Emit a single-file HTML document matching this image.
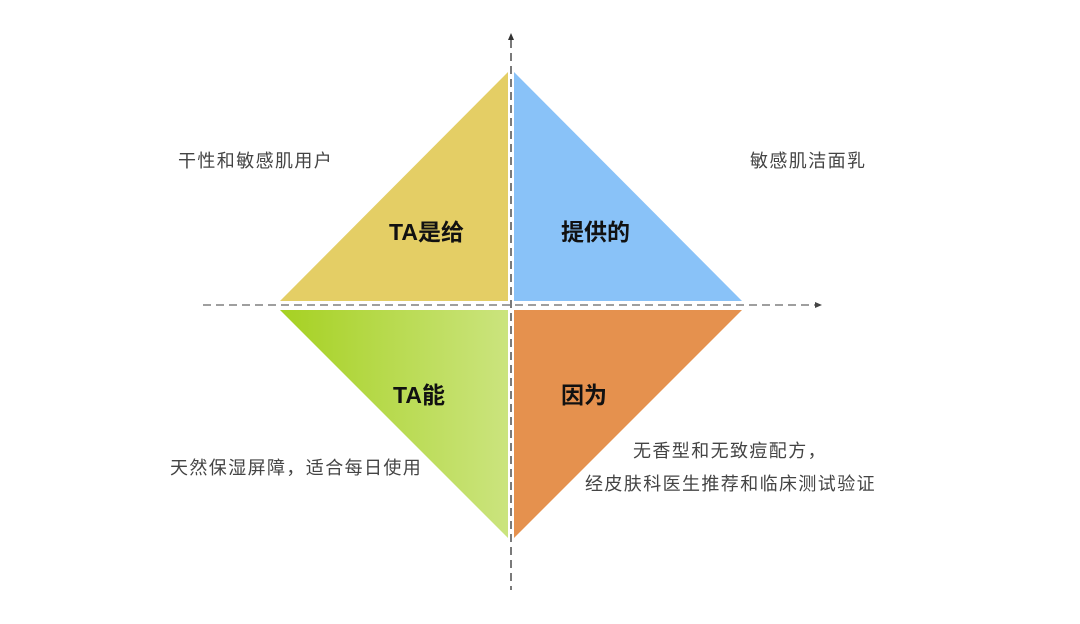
<!DOCTYPE html>
<html><head><meta charset="utf-8"><style>
body{margin:0;background:#fff;}
svg text{font-family:"Liberation Sans","Noto Sans CJK SC",sans-serif;}
</style></head><body>
<svg width="1080" height="619" xmlns="http://www.w3.org/2000/svg">
<defs><linearGradient id="g" x1="0" x2="1" y1="0" y2="0"><stop offset="0" stop-color="#a6d122"/><stop offset="1" stop-color="#cbe47e"/></linearGradient></defs>
<polygon points="280,301 508,72 508,301" fill="#e4ce65"/>
<polygon points="514,72 514,301 742,301" fill="#89c2f8"/>
<polygon points="280,310 508,310 508,538" fill="url(#g)"/>
<polygon points="514,310 742,310 514,538" fill="#e5914e"/>
<line x1="203" y1="305" x2="816" y2="305" stroke="#666" stroke-width="1.3" stroke-dasharray="8,5"/>
<polygon points="822,305 815,302 815,308" fill="#444"/>
<line x1="511" y1="40" x2="511" y2="590" stroke="#333" stroke-width="1.3" stroke-dasharray="8,5"/>
<polygon points="511,33 508,40 514,40" fill="#333"/>
<g font-size="23" font-weight="bold" fill="#111">
<text x="389" y="240">TA是给</text>
<text x="561" y="240">提供的</text>
<text x="393" y="403">TA能</text>
<text x="561" y="403">因为</text>
</g>
<g font-size="18" fill="#444" letter-spacing="1.4">
<text x="178" y="167">干性和敏感肌用户</text>
<text x="750" y="167">敏感肌洁面乳</text>
<text x="170" y="474">天然保湿屏障，适合每日使用</text>
<text x="633" y="457">无香型和无致痘配方，</text>
<text x="585" y="490">经皮肤科医生推荐和临床测试验证</text>
</g>
</svg>
</body></html>
